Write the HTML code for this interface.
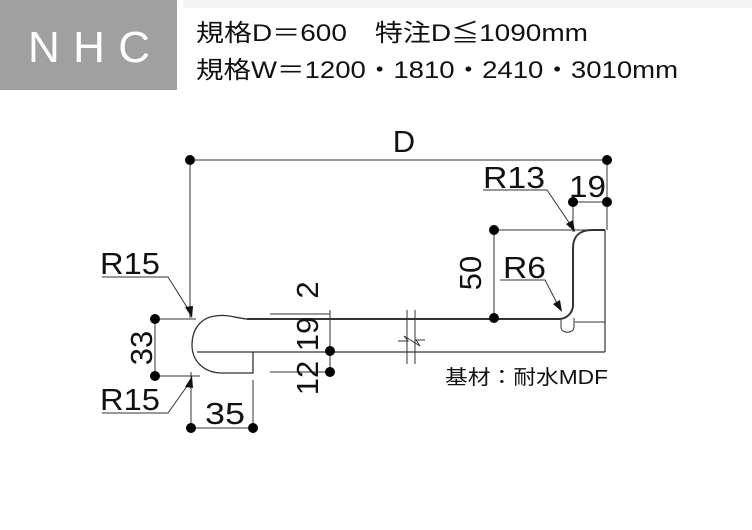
<!DOCTYPE html>
<html><head><meta charset="utf-8"><style>
html,body{margin:0;padding:0;background:#fff;}
svg{display:block;}
text{font-family:"Liberation Sans","Noto Sans CJK JP",sans-serif;fill:#111;}
</style></head><body>
<svg width="752" height="530" viewBox="0 0 752 530" xmlns="http://www.w3.org/2000/svg">
<rect x="183" y="0" width="569" height="8" fill="#f4f4f4"/>
<rect x="0" y="0" width="177" height="90" fill="#a0a0a0"/>
<text x="28" y="62" font-size="44" textLength="122" lengthAdjust="spacing" style="fill:#fff">NHC</text>
<text x="196" y="41" font-size="24" textLength="392" lengthAdjust="spacingAndGlyphs">規格D＝600　特注D≦1090mm</text>
<text x="196" y="78" font-size="24" textLength="482" lengthAdjust="spacingAndGlyphs">規格W＝1200・1810・2410・3010mm</text>

<g stroke="#333" fill="none" stroke-width="1">
<line x1="190" y1="160" x2="607" y2="160"/>
<line x1="190" y1="160" x2="190" y2="318"/>
<line x1="607" y1="160" x2="607" y2="230"/>
<line x1="573" y1="202" x2="607" y2="202"/>
<line x1="573" y1="202" x2="573" y2="232"/>
<line x1="494" y1="230" x2="600" y2="230"/>
<line x1="494" y1="230" x2="494" y2="318"/>
<line x1="155" y1="319" x2="196" y2="319"/>
<line x1="155" y1="376" x2="200" y2="376"/>
<line x1="155" y1="319" x2="155" y2="376"/>
<line x1="191" y1="372" x2="191" y2="428"/>
<line x1="253" y1="380" x2="253" y2="428"/>
<line x1="191" y1="428" x2="253" y2="428"/>
<line x1="270" y1="314" x2="330" y2="314"/>
<line x1="270" y1="372" x2="330" y2="372"/>
<line x1="330" y1="310" x2="330" y2="372"/>
<polyline points="102,277 168,277 190,312"/>
<polyline points="102,413 168,413 190,382"/>
<polyline points="483,190 547,190 572,227"/>
<polyline points="500,280 545,280 559,307"/>
</g>
<g fill="#111">
<polygon points="192,318 185,307 193,306"/>
<polygon points="192,376 185,387 193,388"/>
<polygon points="575,232 566,224 573,220"/>
<polygon points="562,312 553,304 560,300"/>
</g>
<g stroke="#333" fill="none">
<path d="M247,319 C235,318 228,314 215,316 C200,318 192,330 192,345 C192,362 205,373 222,373 L253,373 L253,352" stroke-width="1.3"/>
<line x1="197" y1="352" x2="605" y2="352" stroke-width="1.2"/>
<line x1="247" y1="319" x2="560" y2="319" stroke-width="2"/>
<path d="M560,319 C568,318 573,312 573,305 L573,248 C573,236 580,230 592,230 L605,230" stroke-width="2"/>
<line x1="605" y1="230" x2="605" y2="352" stroke-width="1.2"/>
<line x1="575" y1="322" x2="605" y2="322" stroke-width="1"/>
<path d="M561,320 L561,327 C561,334 574,334 574,327 L574,318" stroke-width="1"/>
<line x1="407" y1="310" x2="407" y2="364" stroke-width="1"/>
<line x1="415" y1="310" x2="415" y2="364" stroke-width="1"/>
<polyline points="398,341 408,341 404,336 420,346 416,340 425,340" stroke-width="1"/>
</g>
<g fill="#000">
<circle cx="190" cy="160" r="5"/><circle cx="607" cy="160" r="5"/>
<circle cx="573" cy="202" r="5"/><circle cx="607" cy="202" r="5"/>
<circle cx="494" cy="230" r="5"/><circle cx="494" cy="318" r="5"/>
<circle cx="155" cy="319" r="5"/><circle cx="155" cy="376" r="5"/>
<circle cx="191" cy="428" r="5"/><circle cx="253" cy="428" r="5"/>
<circle cx="330" cy="351" r="5"/><circle cx="330" cy="372" r="5"/>
</g>
<g font-size="31">
<text x="404" y="152" text-anchor="middle">D</text>
<text x="483" y="188" textLength="62" lengthAdjust="spacingAndGlyphs">R13</text>
<text x="569" y="197" textLength="37" lengthAdjust="spacingAndGlyphs">19</text>
<text x="503" y="278" textLength="43" lengthAdjust="spacingAndGlyphs">R6</text>
<text x="100" y="274" textLength="60" lengthAdjust="spacingAndGlyphs">R15</text>
<text x="100" y="410" textLength="60" lengthAdjust="spacingAndGlyphs">R15</text>
<text x="205" y="424" textLength="40" lengthAdjust="spacingAndGlyphs">35</text>
<text transform="translate(152,348) rotate(-90)" text-anchor="middle">33</text>
<text transform="translate(481,273) rotate(-90)" text-anchor="middle">50</text>
<text transform="translate(318,290) rotate(-90)" text-anchor="middle">2</text>
<text transform="translate(318,334) rotate(-90)" text-anchor="middle">19</text>
<text transform="translate(318,378) rotate(-90)" text-anchor="middle">12</text>
</g>
<text x="445" y="384" font-size="20" textLength="163" lengthAdjust="spacingAndGlyphs">基材：耐水MDF</text>
</svg>
</body></html>
